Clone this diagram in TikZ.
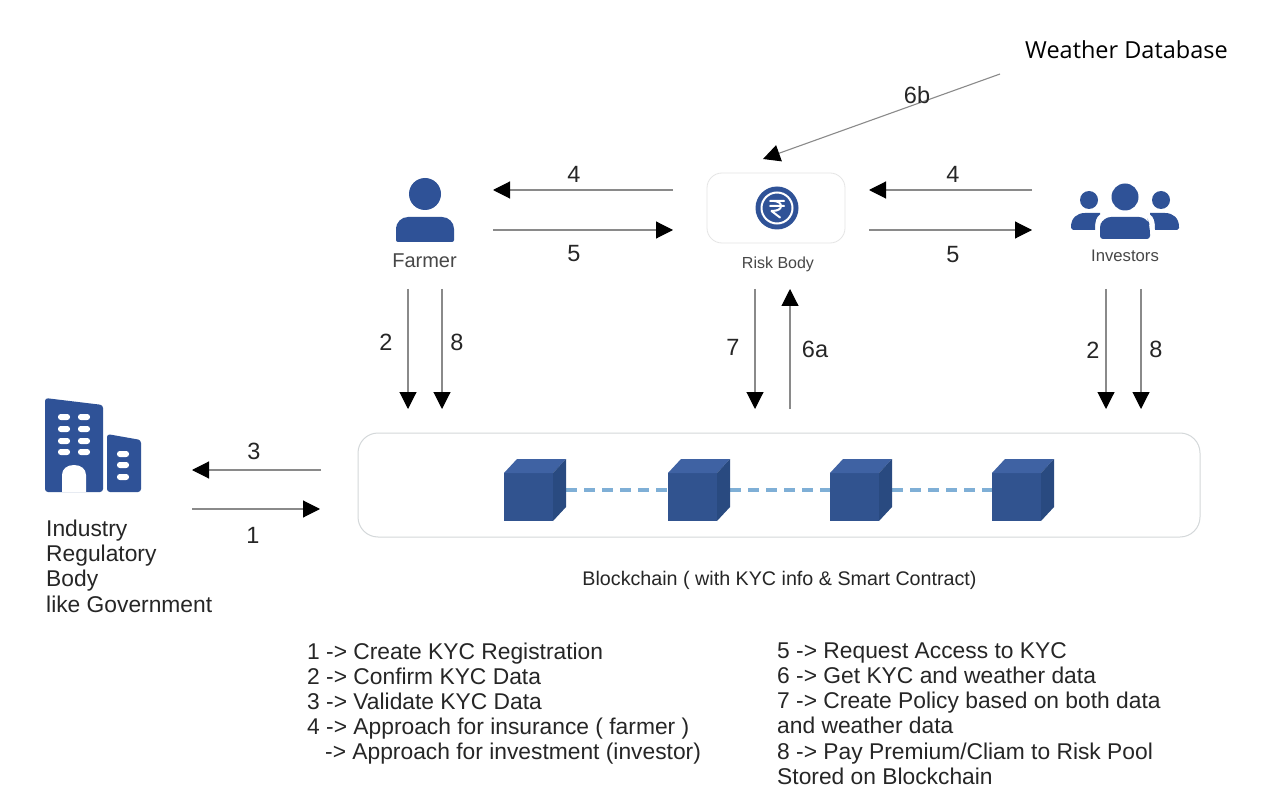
\documentclass[tikz,border=0pt]{standalone}
\usepackage{fontspec}
\setmainfont{Liberation Sans}
\newfontfamily\wfont{Open Sans}
\usetikzlibrary{arrows.meta}
\definecolor{iconblue}{HTML}{2F5297}
\definecolor{cubefront}{HTML}{31538F}
\definecolor{cubetop}{HTML}{3F62A3}
\definecolor{cubeside}{HTML}{294A80}
\definecolor{linkblue}{HTML}{7FAFD6}
\definecolor{linegray}{HTML}{8A8A8A}
\definecolor{boxgray}{HTML}{D4D8DA}
\definecolor{txt}{HTML}{262626}
\tikzset{
 conn/.style={draw=linegray,line width=1.1pt,-{Triangle[length=17pt,width=17pt,black]},shorten >=0pt},
 num/.style={font=\fontsize{23.5}{23.5}\selectfont,text=txt,inner sep=0pt},
 iconlabel/.style={font=\fontsize{16}{16}\selectfont,text=txt!85,inner sep=0pt},
 legend/.style={font=\fontsize{22.8}{25.1}\selectfont,text=txt,align=left,anchor=north west,inner sep=0pt},
 icon/.style={fill=iconblue,draw=none},
 pill/.style={fill=white,draw=none,rounded corners=2.8pt},
 chain/.style={draw=linkblue,line width=3.2pt,dash pattern=on 11pt off 7pt},
}
\newcommand{\cube}[2]{%
 \fill[cubefront] (#1,#2) rectangle ++(49,48);
 \fill[cubetop] (#1,#2) -- ++(13,-14) -- ++(49,0) -- ++(-13,14) -- cycle;
 \fill[cubeside] (#1+49,#2) -- ++(13,-14) -- ++(0,48) -- ++(-13,14) -- cycle;
}
\begin{document}
\begin{tikzpicture}[x=1pt,y=-1pt]
\useasboundingbox (0,0) rectangle (1280,810);
\fill[white] (0,0) rectangle (1280,810);
% coordinates
\coordinate (f4s) at (673,190); \coordinate (f4e) at (493,190);
\coordinate (f5s) at (493,230); \coordinate (f5e) at (673,230);
\coordinate (i4s) at (1032,190); \coordinate (i4e) at (869,190);
\coordinate (i5s) at (869,230); \coordinate (i5e) at (1032,230);
\coordinate (w6s) at (1000,74); \coordinate (w6e) at (763,159);
\coordinate (f2s) at (408,289); \coordinate (f2e) at (408,409);
\coordinate (f8s) at (442,289); \coordinate (f8e) at (442,409);
\coordinate (r7s) at (755,289); \coordinate (r7e) at (755,409);
\coordinate (r6s) at (790,409); \coordinate (r6e) at (790,289);
\coordinate (i2s) at (1106,289); \coordinate (i2e) at (1106,409);
\coordinate (i8s) at (1141,289); \coordinate (i8e) at (1141,409);
\coordinate (b3s) at (321,470); \coordinate (b3e) at (192,470);
\coordinate (b1s) at (192,509); \coordinate (b1e) at (320,509);

% Weather
\node[inner sep=0pt,font=\wfont\fontsize{23.5}{23.5}\selectfont,text=black] (weather) at (1126.5,50) {Weather Database};

% Farmer icon
\fill[icon] (425,194) circle (16);
\fill[icon,rounded corners=2pt] (396,242) -- (396,229) [rounded corners=12pt] -- (396,217) -- (454,217) [rounded corners=2pt] -- (454,242) -- cycle;
\node[iconlabel,font=\fontsize{20}{20}\selectfont] (farmer) at (424.5,261) {Farmer};

% Risk body
\node[draw=black!10,line width=0.8pt,rounded corners=15pt,minimum width=138pt,minimum height=70pt,inner sep=0pt] (riskbox) at (776,208) {};
\fill[icon] (777,208) circle (21.5);
\draw[white,line width=2pt] (777,208) circle (15.5);
\draw[white,line width=2pt,line cap=round,line join=round]
 (770,201) -- (784,201) (770,206) -- (784,206)
 (771,201) .. controls (778,200.5) and (781,203) .. (781,206) .. controls (781,209) and (778,211) .. (771.5,211) -- (780,217.5);
\node[iconlabel] (risk) at (778,264) {Risk Body};

% Investors icon
\fill[icon] (1125,197) circle (13.5);
\fill[icon] (1089,200) circle (9);
\fill[icon] (1161,200) circle (9);
\fill[icon,rounded corners=3pt] (1100,239) -- (1100,226) [rounded corners=8pt] -- (1103,217) -- (1147,217) -- (1150,226) [rounded corners=3pt] -- (1150,239) -- cycle;
\fill[icon] (1071,227) .. controls (1071,218) and (1077,213) .. (1085,213) -- (1100,213) -- (1100,214.5) .. controls (1096,217) and (1095,221) .. (1095,230) -- (1073,230) -- (1071,228) -- cycle;
\fill[icon] (1179,227) .. controls (1179,218) and (1173,213) .. (1165,213) -- (1150,213) -- (1150,214.5) .. controls (1154,217) and (1155,221) .. (1155,230) -- (1177,230) -- (1179,228) -- cycle;
\node[iconlabel,font=\fontsize{16.7}{16.7}\selectfont] (investors) at (1125,256) {Investors};

% Building icon
\fill[icon,rounded corners=3pt] (45,492) -- (45,398) -- (103,405) -- (103,492) -- cycle;
\fill[white] (62,492) -- (62,475) .. controls (62,469) and (67,465) .. (74,465) .. controls (81,465) and (86,469) .. (86,475) -- (86,492) -- cycle;
\foreach \yy in {417,429,441,452} {
 \fill[pill] (58,\yy-3) rectangle (70,\yy+3);
 \fill[pill] (78,\yy-3) rectangle (90,\yy+3);
}
\fill[icon,rounded corners=3pt] (107,492) -- (107,434) -- (141,440) -- (141,492) -- cycle;
\foreach \yy in {454,465,477} { \fill[pill] (117,\yy-3) rectangle (129,\yy+3); }

% Blockchain
\node[draw=boxgray,line width=1pt,rounded corners=20pt,minimum width=842pt,minimum height=104pt,inner sep=0pt] (chainbox) at (779,485) {};
\coordinate (c1) at (566,490); \coordinate (c2) at (668,490);
\coordinate (c3) at (730,490); \coordinate (c4) at (830,490);
\coordinate (c5) at (892,490); \coordinate (c6) at (992,490);
\draw[chain] (c1) -- (c2);
\draw[chain] (c3) -- (c4);
\draw[chain] (c5) -- (c6);
\cube{504}{473}
\cube{668}{473}
\cube{830}{473}
\cube{992}{473}
\node[inner sep=0pt,font=\fontsize{19.7}{19.7}\selectfont,text=txt] (chainlabel) at (779.5,580) {Blockchain ( with KYC info \& Smart Contract)};

% Connectors
\draw[conn] (f4s) -- (f4e);
\draw[conn] (f5s) -- (f5e);
\draw[conn] (i4s) -- (i4e);
\draw[conn] (i5s) -- (i5e);
\draw[conn] (w6s) -- (w6e);
\draw[conn] (f2s) -- (f2e);
\draw[conn] (f8s) -- (f8e);
\draw[conn] (r7s) -- (r7e);
\draw[conn] (r6s) -- (r6e);
\draw[conn] (i2s) -- (i2e);
\draw[conn] (i8s) -- (i8e);
\draw[conn] (b3s) -- (b3e);
\draw[conn] (b1s) -- (b1e);

% Numbers
\node[num] (n4a) at (574,174) {4};
\node[num] (n5a) at (574,254) {5};
\node[num] (n4b) at (953,174) {4};
\node[num] (n5b) at (953,255) {5};
\node[num] (n6b) at (917,95) {6b};
\node[num] (n2a) at (386,342) {2};
\node[num] (n8a) at (457,342) {8};
\node[num] (n7) at (733,347) {7};
\node[num] (n6a) at (815,349) {6a};
\node[num] (n2b) at (1093,350) {2};
\node[num] (n8b) at (1156,349) {8};
\node[num] (n3) at (254,451) {3};
\node[num] (n1) at (253,535) {1};

% Texts
\node[legend] (regulator) at (46,520) {Industry\\Regulatory\\Body\\like Government};
\node[legend] (legendL) at (307,642.5) {1 -> Create KYC Registration\\2 -> Confirm KYC Data\\3 -> Validate KYC Data\\4 -> Approach for insurance ( farmer )\\\hspace*{18pt}-> Approach for investment (investor)};
\node[legend] (legendR) at (777,642.5) {5 -> Request Access to KYC\\6 -> Get KYC and weather data\\7 -> Create Policy based on both data\\and weather data\\8 -> Pay Premium/Cliam to Risk Pool\\Stored on Blockchain};
\end{tikzpicture}
\end{document}
